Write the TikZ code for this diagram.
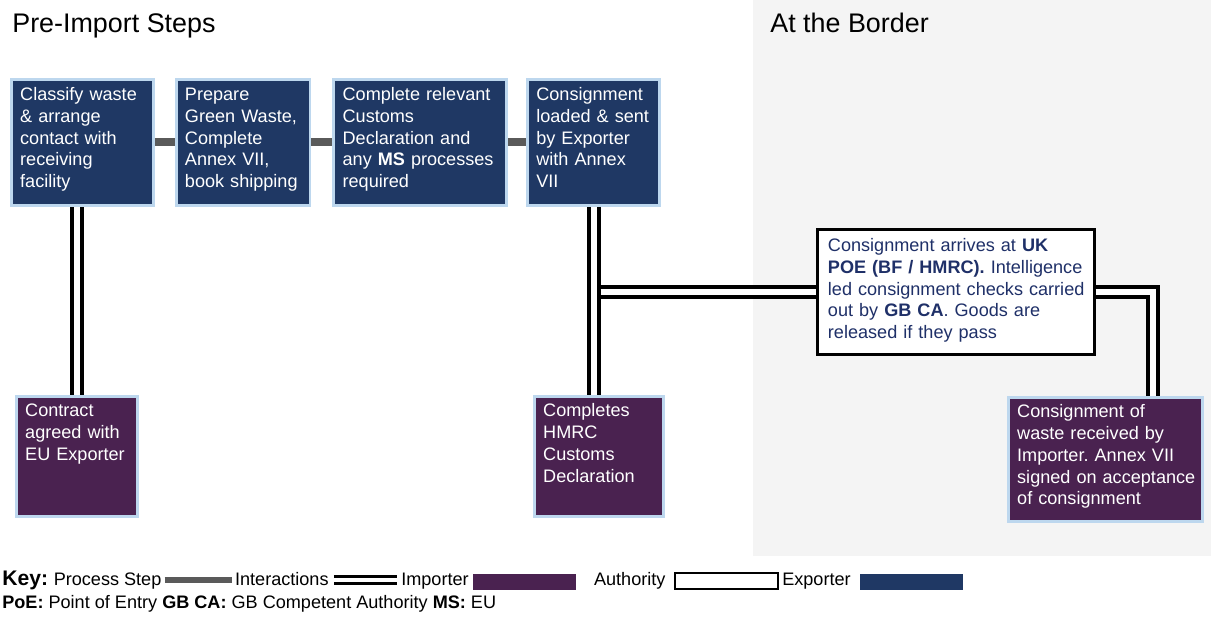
\documentclass[tikz,border=0pt]{standalone}
\usepackage{fontspec}
\setmainfont{Liberation Sans}
\usepackage{xcolor}
\usetikzlibrary{positioning}
\frenchspacing

\definecolor{navy}{HTML}{1F3864}
\definecolor{plum}{HTML}{4A2250}
\definecolor{edge}{HTML}{BDD7EE}
\definecolor{stepgray}{HTML}{5A5A5A}
\definecolor{bordergray}{HTML}{F4F4F4}
\definecolor{authtext}{HTML}{1F3068}

\newcommand{\cellfont}{\fontsize{10.3}{12.35}\selectfont}
\newcommand{\keyfont}{\fontsize{10.3}{12}\selectfont}

\begin{document}
\begin{tikzpicture}[
        x=0.02cm, y=-0.02cm,
        every node/.style={font=\cellfont},
        cell/.style={draw=edge, line width=1.6pt, align=left, anchor=north west, inner xsep=5pt, inner ysep=4pt, text=white},
        exporter/.style={cell, fill=navy, text height=8.2pt, text depth=55.5pt},
        importer/.style={cell, fill=plum, text height=7.7pt, text depth=52.6pt},
        authority/.style={cell, draw=black, fill=white, text=authtext, inner xsep=6pt, text height=8.8pt, text depth=54.3pt},
        stepline/.style={draw=stepgray, line width=4.5pt},
        interline/.style={draw=black, line width=2.3pt, double=white, double distance=3.4pt},
        title/.style={anchor=base west, inner sep=0pt, font=\fontsize{15.3}{18}\selectfont},
        keytext/.style={inner sep=0pt, font=\keyfont},
        swatch/.style={minimum width=2.06cm, minimum height=0.32cm, inner sep=0pt}
    ]

    \useasboundingbox (0,0) rectangle (1211,617);

    % border area
    \fill[bordergray] (753,0) rectangle (1211,556);

    \node[title] (pretitle) at (12,33) {Pre-Import Steps};
    \node[title] (bordertitle) at (770,33) {At the Border};

    % exporter steps
    \node[exporter, text width=70.8pt] (classify) at (10,78) {Classify waste\\ \& arrange\\ contact with\\ receiving\\ facility};
    \node[exporter, text width=66.2pt, right=0.4cm of classify] (prepare) {Prepare\\ Green Waste,\\ Complete\\ Annex VII,\\ book shipping};
    \node[exporter, text width=88.4pt, right=0.42cm of prepare] (customs) {Complete relevant\\ Customs\\ Declaration and\\ \mbox{any \textbf{MS} processes}\\ required};
    \node[exporter, text width=65.1pt, right=0.36cm of customs] (loaded) {Consignment\\ loaded \& sent\\ by Exporter\\ with Annex\\ VII};

    % importer steps
    \node[importer, text width=58.9pt] (contract) at (15,395) {Contract\\ agreed with\\ EU Exporter};
    \node[importer, text width=63.4pt] (hmrc) at (533,395) {Completes\\ HMRC\\ Customs\\ Declaration};
    \node[importer, text width=100.4pt, text depth=54.9pt] (received) at (1007,396) {Consignment of\\ waste received by\\ Importer. Annex VII\\ \mbox{signed on acceptance}\\ of consignment};

    % authority
    \node[authority, text width=145.6pt] (poe) at (816,228) {Consignment arrives at \textbf{UK}\\ \textbf{POE (BF / HMRC).} Intelligence\\ \mbox{led consignment checks carried}\\ out by \textbf{GB CA}. Goods are\\ released if they pass};

    \draw[stepline] (classify.east) -- (prepare.west);
    \draw[stepline] (prepare.east) -- (customs.west);
    \draw[stepline] (customs.east) -- (loaded.west);

    \draw[interline] (contract.north) -- (contract.north |- classify.south);
    \draw[interline] (loaded.south) -- (loaded.south |- hmrc.north);
    \coordinate (tee) at ([xshift=0.14cm]loaded.south |- poe.west);
    \draw[interline] (tee) -- (poe.west);
    \coordinate (drop) at (1153,0);
    \draw[interline] (poe.east) -| (drop |- received.north);

    % key
    \node[keytext, anchor=base west, font=\bfseries\fontsize{12}{14}\selectfont] (key) at (2,586) {Key:};
    \node[keytext, base right=0.1cm of key] (kstep) {Process Step};
    \node[keytext, base right=1.46cm of kstep] (kinter) {Interactions};
    \node[keytext, base right=1.44cm of kinter] (kimp) {Importer};
    \node[swatch, fill=plum, right=0.08cm of kimp] (simp) {};
    \node[keytext, anchor=base west] (kauth) at ([xshift=0.34cm]simp.east |- key.base) {Authority};
    \node[swatch, draw=black, line width=1.2pt, fill=white, right=0.16cm of kauth] (sauth) {};
    \node[keytext, anchor=base west] (kexp) at ([xshift=0.06cm]sauth.east |- key.base) {Exporter};
    \node[swatch, fill=navy, right=0.18cm of kexp] (sexp) {};

    \coordinate (kbar) at (0,580);
    \draw[stepgray, line width=3.4pt] ([xshift=0.06cm]kstep.east |- kbar) -- ([xshift=-0.06cm]kinter.west |- kbar);
    \draw[interline, line width=1.7pt, double distance=2.5pt] ([xshift=0.1cm]kinter.east |- kbar) -- ([xshift=-0.08cm]kimp.west |- kbar);

    \node[keytext, anchor=base west] (abbrev) at (2,609) {\textbf{PoE:} Point of Entry \textbf{GB CA:} GB Competent Authority \textbf{MS:} EU};

\end{tikzpicture}
\end{document}
